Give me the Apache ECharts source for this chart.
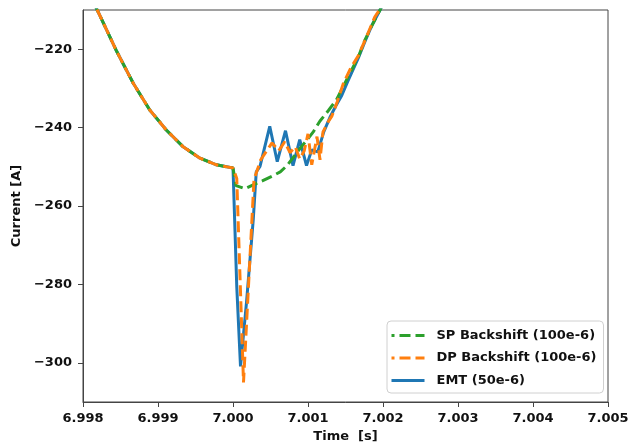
<!DOCTYPE html>
<html>
<head>
<meta charset="utf-8">
<script src="https://cdn.jsdelivr.net/npm/echarts@6/dist/echarts.min.js"></script>
<style>
  html, body { margin: 0; padding: 0; background: #fff; }
  #chart { width: 632px; height: 446px; }
</style>
</head>
<body>
<div id="chart"></div>
<script>
// Axis ticks
const xTicks = [6.998, 6.999, 7.000, 7.001, 7.002, 7.003, 7.004, 7.005];
const yTicks = [-300, -280, -260, -240, -220];

// Pre-fault trajectory shared by all three simulations (time [s], current [A])
const preTime    = [6.998, 6.99819, 6.99844, 6.99867, 6.99889, 6.99911, 6.99933, 6.99956, 6.99978, 7.0];
const preCurrent = [-202.6, -210.0, -220.2, -228.7, -235.5, -240.6, -244.8, -247.8, -249.5, -250.3];

// EMT, 50e-6 step
const emtTime    = [7.00005, 7.0001, 7.00018, 7.00027, 7.00031, 7.00036, 7.00049, 7.00059, 7.0007, 7.0008,
                    7.00089, 7.00098, 7.00105, 7.00113, 7.00121, 7.00129, 7.00137, 7.00145, 7.00153, 7.00167,
                    7.00176, 7.00185, 7.00196, 7.00207];
const emtCurrent = [-280.5, -300.9, -284.6, -263.5, -251.3, -249.9, -239.7, -248.7, -240.8, -249.7,
                    -243.1, -249.7, -245.7, -246.2, -241.1, -237.5, -234.5, -231.8, -228.2, -222.3,
                    -218.0, -214.0, -210.0, -205.9];

// SP backshift, 100e-6 step
const spTime    = [7.00004, 7.00016, 7.00027, 7.00039, 7.00053, 7.00063, 7.00072, 7.0008, 7.00089, 7.00099,
                   7.00107, 7.00116, 7.00127, 7.00138, 7.00147, 7.00156, 7.00167, 7.00176, 7.00187, 7.00196,
                   7.00205];
const spCurrent = [-254.8, -255.6, -254.6, -253.6, -252.3, -251.3, -249.7, -247.7, -245.4, -243.1,
                   -241.1, -238.3, -235.7, -232.9, -229.5, -226.1, -222.0, -217.6, -213.3, -210.0,
                   -206.4];

// DP backshift, 100e-6 step
const dpTime    = [7.00005, 7.00014, 7.00028, 7.00037, 7.00052, 7.00061, 7.00069, 7.00076, 7.00083, 7.00089,
                   7.00095, 7.001, 7.00105, 7.00112, 7.00116, 7.0012, 7.00127, 7.00132, 7.00139, 7.00147,
                   7.00157, 7.00167, 7.00179, 7.00189, 7.00197, 7.00207];
const dpCurrent = [-253.0, -305.0, -253.3, -248.2, -243.9, -245.9, -243.6, -246.4, -244.9, -248.0,
                   -245.9, -241.6, -249.5, -242.3, -248.2, -241.1, -238.5, -237.0, -233.4, -228.8,
                   -224.8, -221.7, -216.4, -211.8, -209.5, -205.9];

const names = ['SP Backshift (100e-6)', 'DP Backshift (100e-6)', 'EMT (50e-6)'];

function pairs(t, v) {
  return preTime.map((x, i) => [x, preCurrent[i]]).concat(t.map((x, i) => [x, v[i]]));
}

const FONT = 'DejaVu Sans';
const TXT = '#111';
const AXIS = '#444';

const chart = echarts.init(document.getElementById('chart'), null, { renderer: 'canvas' });

chart.setOption({
  animation: false,
  backgroundColor: '#fff',
  textStyle: { fontFamily: FONT },
  grid: {
    left: 83, right: 24, top: 10, bottom: 44,
    outerBoundsMode: 'none',
    show: true, borderColor: AXIS, borderWidth: 1, backgroundColor: 'transparent'
  },
  legend: {
    orient: 'vertical',
    left: 387, top: 321,
    data: names,
    padding: [8, 7, 6, 3],
    itemWidth: 33, itemHeight: 14, itemGap: 9.5,
    itemStyle: { opacity: 0, borderWidth: 0 },
    lineStyle: { width: 3 },
    backgroundColor: 'rgba(255,255,255,0.85)',
    borderColor: '#d0d0d0', borderWidth: 1, borderRadius: 4,
    textStyle: { fontFamily: FONT, fontWeight: 'bold', fontSize: 13, color: TXT, padding: [0, 0, 0, 7] }
  },
  xAxis: {
    type: 'value',
    min: 6.998, max: 7.005,
    name: 'Time  [s]',
    nameLocation: 'middle',
    nameGap: 35,
    nameTextStyle: { fontFamily: FONT, fontWeight: 'bold', fontSize: 13, color: TXT, verticalAlign: 'middle' },
    axisLine: { show: true, lineStyle: { color: AXIS, width: 1 } },
    axisTick: { show: true, length: 5, customValues: xTicks, lineStyle: { color: AXIS } },
    axisLabel: {
      customValues: xTicks,
      margin: 10,
      fontFamily: FONT, fontWeight: 'bold', fontSize: 13, color: TXT,
      formatter: v => Number(v).toFixed(3)
    },
    splitLine: { show: false }
  },
  yAxis: {
    type: 'value',
    min: -310, max: -210,
    name: 'Current [A]',
    nameLocation: 'middle',
    nameRotate: 90,
    nameGap: 58,
    nameTextStyle: { fontFamily: FONT, fontWeight: 'bold', fontSize: 13, color: TXT, verticalAlign: 'middle' },
    axisLine: { show: true, lineStyle: { color: AXIS, width: 1 } },
    axisTick: { show: true, length: 5, customValues: yTicks, lineStyle: { color: AXIS } },
    axisLabel: {
      customValues: yTicks,
      margin: 11,
      fontFamily: FONT, fontWeight: 'bold', fontSize: 13, color: TXT,
      formatter: v => (v < 0 ? '\u2212' : '') + Math.abs(v)
    },
    splitLine: { show: false }
  },
  series: [
    {
      name: names[2], type: 'line', data: pairs(emtTime, emtCurrent),
      symbol: 'none', showSymbol: false, clip: true,
      lineStyle: { color: '#1f77b4', width: 3 }, itemStyle: { color: '#1f77b4' }, z: 2
    },
    {
      name: names[0], type: 'line', data: pairs(spTime, spCurrent),
      symbol: 'none', showSymbol: false, clip: true,
      lineStyle: { color: '#2ca02c', width: 3, type: [11, 5], dashOffset: 8 }, itemStyle: { color: '#2ca02c' }, z: 3
    },
    {
      name: names[1], type: 'line', data: pairs(dpTime, dpCurrent),
      symbol: 'none', showSymbol: false, clip: true,
      lineStyle: { color: '#ff7f0e', width: 3, type: [11, 5] }, itemStyle: { color: '#ff7f0e' }, z: 4
    }
  ]
});
</script>
</body>
</html>
